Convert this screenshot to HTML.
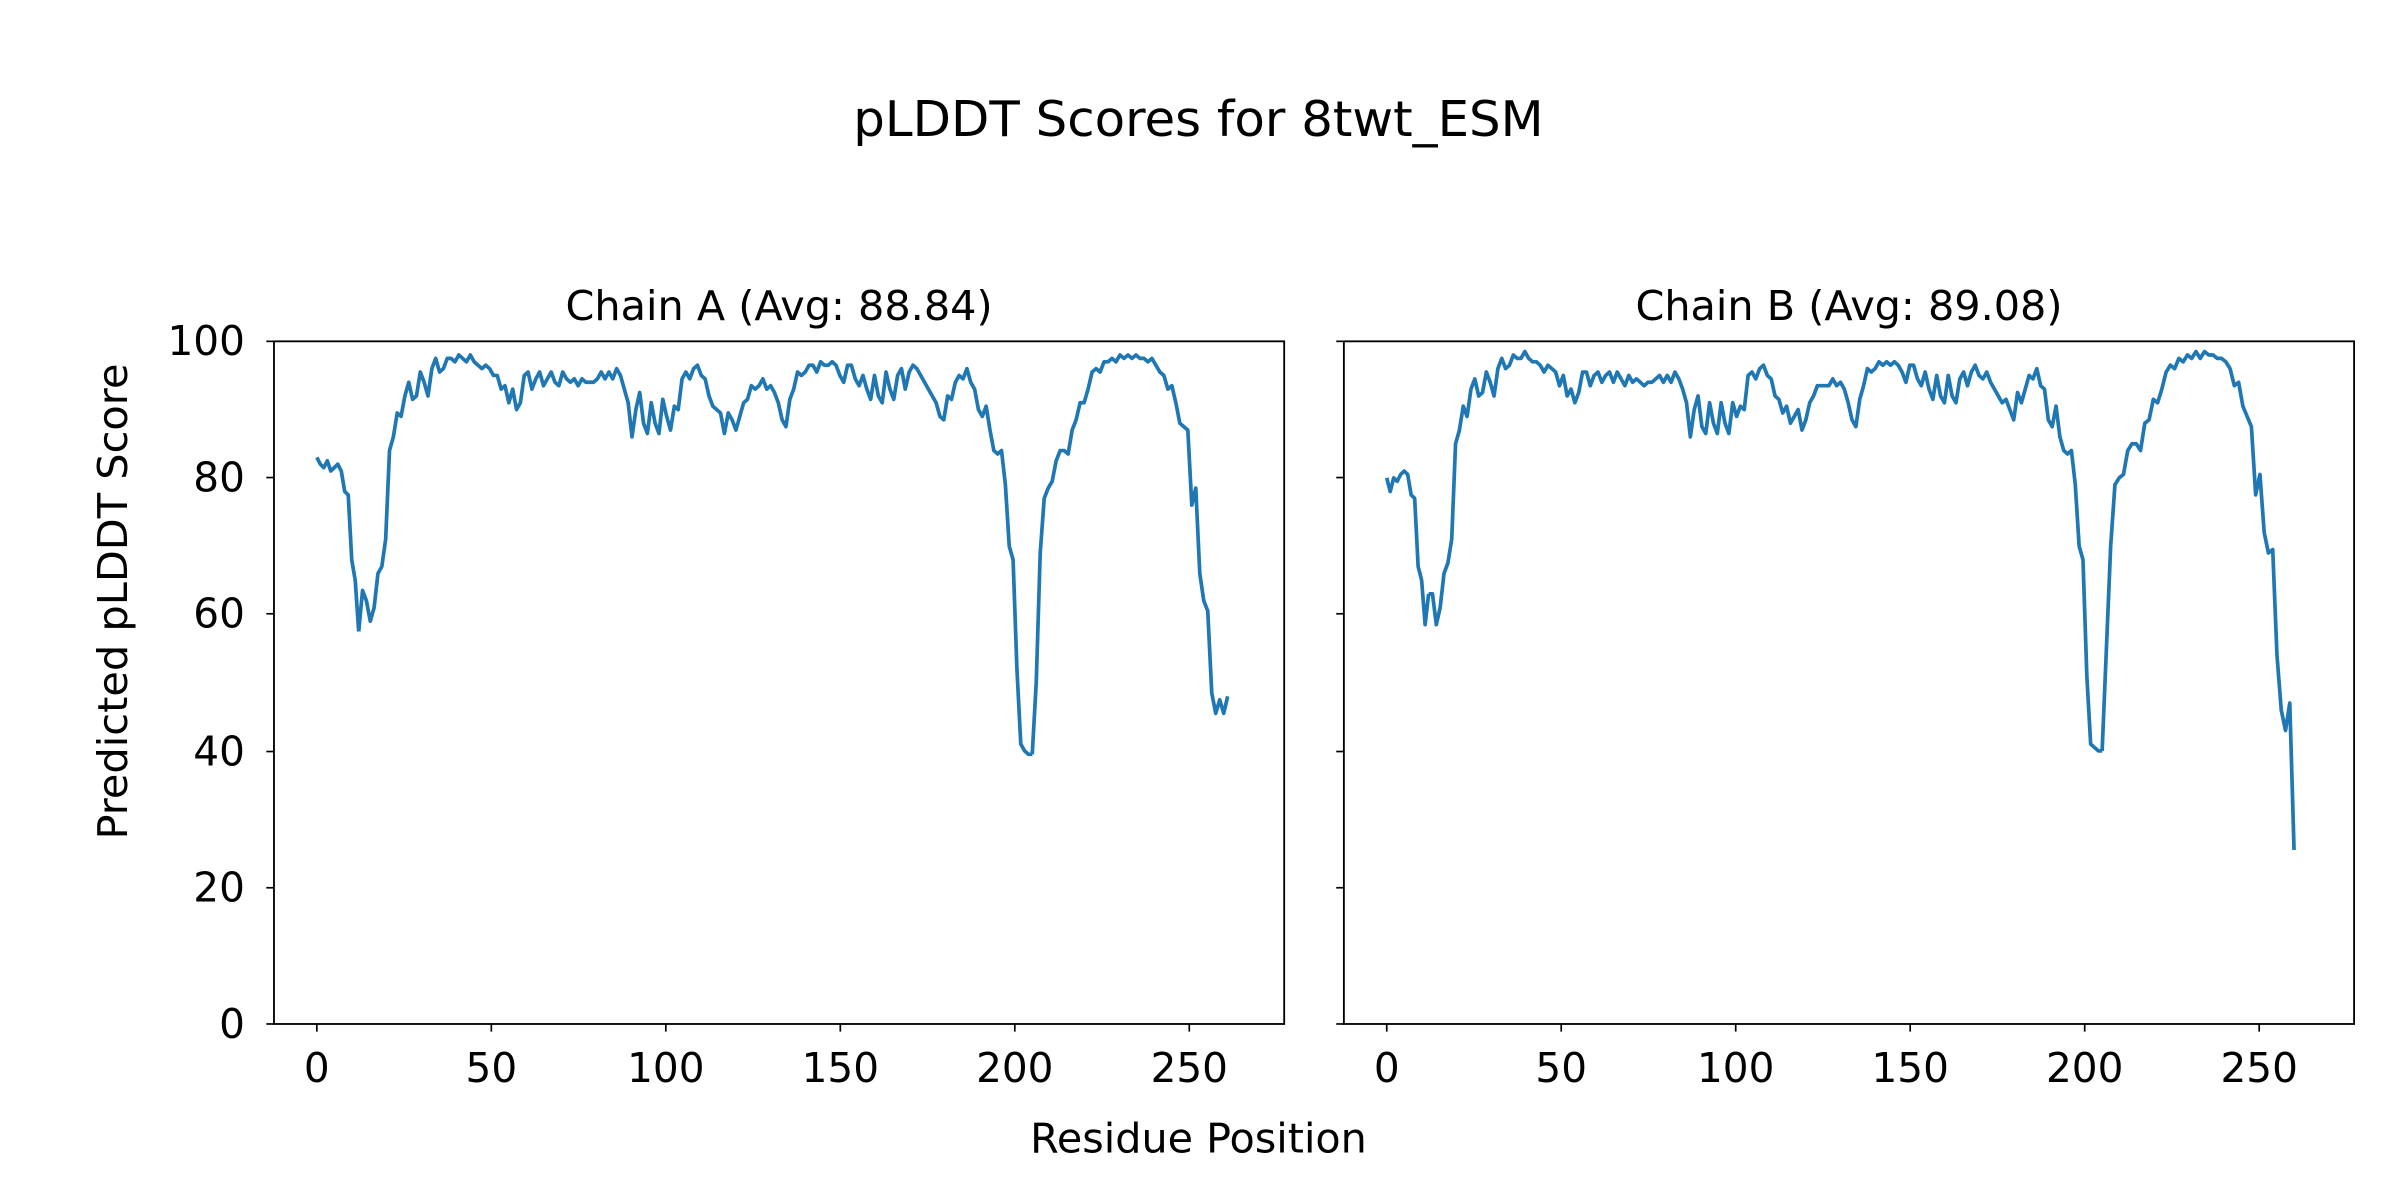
<!DOCTYPE html>
<html><head><meta charset="utf-8"><style>html,body{margin:0;padding:0;background:#fff}svg{display:block}</style></head>
<body>
<svg width="2400" height="1200" viewBox="0 0 1568 784" xmlns="http://www.w3.org/2000/svg" font-family="'DejaVu Sans','Liberation Sans',sans-serif">
<rect width="1568" height="784" fill="#fff"/>
<text x="783" y="89" font-size="32" text-anchor="middle" textLength="451" lengthAdjust="spacingAndGlyphs">pLDDT Scores for 8twt_ESM</text>
<text x="509" y="209" font-size="26.5" text-anchor="middle" textLength="279" lengthAdjust="spacingAndGlyphs">Chain A (Avg: 88.84)</text>
<text x="1208" y="209" font-size="26.5" text-anchor="middle" textLength="279" lengthAdjust="spacingAndGlyphs">Chain B (Avg: 89.08)</text>
<text x="783" y="753" font-size="26.5" text-anchor="middle" textLength="220" lengthAdjust="spacingAndGlyphs">Residue Position</text>
<text transform="translate(83,393) rotate(-90)" font-size="26.5" text-anchor="middle" textLength="311" lengthAdjust="spacingAndGlyphs">Predicted pLDDT Score</text>

<g font-size="26.5" text-anchor="end">
<text x="160" y="678">0</text><text x="160" y="589">20</text><text x="160" y="500">40</text><text x="160" y="410">60</text><text x="160" y="321">80</text><text x="160" y="232">100</text>
</g>
<g stroke="#000" stroke-width="1.1">
<line x1="174" y1="669" x2="179" y2="669"/><line x1="174" y1="580" x2="179" y2="580"/><line x1="174" y1="491" x2="179" y2="491"/><line x1="174" y1="401" x2="179" y2="401"/><line x1="174" y1="312" x2="179" y2="312"/><line x1="174" y1="223" x2="179" y2="223"/>
<line x1="873" y1="669" x2="878" y2="669"/><line x1="873" y1="580" x2="878" y2="580"/><line x1="873" y1="491" x2="878" y2="491"/><line x1="873" y1="401" x2="878" y2="401"/><line x1="873" y1="312" x2="878" y2="312"/><line x1="873" y1="223" x2="878" y2="223"/>
<line x1="207" y1="669" x2="207" y2="674"/><line x1="321" y1="669" x2="321" y2="674"/><line x1="435" y1="669" x2="435" y2="674"/><line x1="549" y1="669" x2="549" y2="674"/><line x1="663" y1="669" x2="663" y2="674"/><line x1="777" y1="669" x2="777" y2="674"/>
<line x1="906" y1="669" x2="906" y2="674"/><line x1="1020" y1="669" x2="1020" y2="674"/><line x1="1134" y1="669" x2="1134" y2="674"/><line x1="1248" y1="669" x2="1248" y2="674"/><line x1="1362" y1="669" x2="1362" y2="674"/><line x1="1476" y1="669" x2="1476" y2="674"/>
</g>
<g font-size="26.5" text-anchor="middle">
<text x="207" y="707">0</text><text x="321" y="707">50</text><text x="435" y="707">100</text><text x="549" y="707">150</text><text x="663" y="707">200</text><text x="777" y="707">250</text>
<text x="906" y="707">0</text><text x="1020" y="707">50</text><text x="1134" y="707">100</text><text x="1248" y="707">150</text><text x="1362" y="707">200</text><text x="1476" y="707">250</text>
</g>

<!-- Chain A data -->
<g transform="translate(207,669) scale(2.28,-4.46)" fill="none" stroke="#1f77b4" stroke-width="3.7" stroke-linejoin="round">
<polyline vector-effect="non-scaling-stroke" points="0,83 1,82 2,81.5 3,82.5 4,81 5,81.5 6,82 7,81 8,78 9,77.5 10,68 11,65 12,57.5"/>
<g transform="translate(12,0) scale(1.103,1) translate(-12,0)">
<polyline vector-effect="non-scaling-stroke" points="12,57.5 13,63.5 14,62 15,59 16,61 17,66 18,67 19,71 20,84 21,86 22,89.5 23,89 24,92 25,94 26,91.5 27,92 28,95.5 29,94 30,92 31,96 32,97.5 33,95.5 34,96 35,97.5 36,97.5 37,97 38,98 39,97.5 40,97 41,98 42,97 43,96.5 44,96 45,96.5 46,96 47,95 48,95 49,93 50,93.5 51,91 52,93 53,90 54,91 55,95 56,95.5 57,93 58,94.5 59,95.5 60,93.5 61,94.5 62,95.5 63,94 64,93.5 65,95.5 66,94.5 67,94 68,94.5 69,93.5 70,94.5 71,94 72,94 73,94 74,94.5 75,95.5 76,94.5 77,95.5 78,94.5 79,96 80,95 81,93 82,91 83,86 84,90 85,92.5 86,88 87,86.5 88,91 89,88 90,86.5 91,91.5 92,89 93,87 94,90.5 95,90 96,94.5 97,95.5 98,94.5 99,96 100,96.5 101,95 102,94.5 103,92 104,90.5 105,90 106,89.5 107,86.5 108,89.5 109,88.5 110,87 111,89 112,91 113,91.5 114,93.5 115,93 116,93.5 117,94.5 118,93 119,93.5 120,92.5 121,91 122,88.5 123,87.5 124,91.5 125,93 126,95.5 127,95 128,95.5 129,96.5 130,96.5 131,95.5 132,97 133,96.5 134,96.5 135,97 136,96.5 137,95 138,94 139,96.5 140,96.5 141,94.5 142,93.5 143,95 144,93 145,91.5 146,95 147,92 148,91 149,95.5 150,93 151,91.5 152,95 153,96 154,93 155,95.5 156,96.5 157,96 158,95 159,94 160,93 161,92 162,91 163,89 164,88.5 165,92 166,91.5 167,94 168,95 169,94.5 170,96 171,94 172,93 173,90 174,89 175,90.5 176,87 177,84 178,83.5 179,84 180,79 181,70 182,68 183,52 184,41 185,40 186,39.5 187,39.5"/>
</g>
<g transform="translate(205,0) scale(1.143,1) translate(-187,0)">
<polyline vector-effect="non-scaling-stroke" points="187,39.5 188,50 189,69 190,77 191,78.5 192,79.5 193,82.5 194,84 195,84 196,83.5 197,87 198,88.5 199,91 200,91 201,93 202,95.5 203,96 204,95.5 205,97 206,97 207,97.5 208,97 209,98 210,97.5 211,98 212,97.5 213,98 214,97.5 215,97.5 216,97 217,97.5 218,96.5 219,95.5 220,95 221,93 222,93.5 223,91 224,88 225,87.5 226,87 227,76 228,78.5 229,66 230,62 231,60.5 232,48.5 233,45.5 234,47.5 235,45.5 236,48"/>
</g>
</g>

<!-- Chain B data -->
<g transform="translate(906,669) scale(2.28,-4.46)" fill="none" stroke="#1f77b4" stroke-width="3.7" stroke-linejoin="round">
<polyline vector-effect="non-scaling-stroke" points="0,80 1,78 2,80 3,79.5 4,80.5 5,81 6,80.5 7,77.5 8,77 9,67 10,65 11,58.5 12,63"/>
<g transform="translate(12,0) scale(1.103,1) translate(-12,0)">
<polyline vector-effect="non-scaling-stroke" points="12,63 13,63 14,58.5 15,61 16,66 17,67.5 18,71 19,85 20,87 21,90.5 22,89 23,93 24,94.5 25,92 26,92.5 27,95.5 28,94 29,92 30,96 31,97.5 32,96 33,96.5 34,98 35,97.5 36,97.5 37,98.5 38,97.5 39,97 40,97 41,96.5 42,95.5 43,96.5 44,96 45,95.5 46,93.5 47,95 48,92 49,93 50,91 51,92.5 52,95.5 53,95.5 54,93.5 55,95 56,95.5 57,94 58,95 59,95.5 60,94 61,95.5 62,94.5 63,93.5 64,95 65,94 66,94.5 67,94 68,93.5 69,94 70,94 71,94.5 72,95 73,94 74,95 75,94 76,95.5 77,94.5 78,93 79,91 80,86 81,90 82,92 83,87.5 84,86.5 85,91 86,88 87,86.5 88,91 89,88 90,86.5 91,91 92,89 93,90.5 94,90 95,95 96,95.5 97,94.5 98,96 99,96.5 100,95 101,94.5 102,92 103,91.5 104,89.5 105,90.5 106,88 107,89 108,90 109,87 110,88.5 111,91 112,92 113,93.5 114,93.5 115,93.5 116,93.5 117,94.5 118,93.5 119,94 120,93 121,91 122,88.5 123,87.5 124,91.5 125,93.5 126,96 127,95.5 128,96 129,97 130,96.5 131,97 132,96.5 133,97 134,96.5 135,95.5 136,94 137,96.5 138,96.5 139,94.5 140,93.5 141,95.5 142,93 143,91.5 144,95 145,92 146,91 147,95 148,92 149,91 150,94.5 151,95.5 152,93.5 153,95.5 154,96.5 155,95 156,94.5 157,95.5 158,94 159,93 160,92 161,91 162,91.5 163,90 164,88.5 165,92.5 166,91 167,93 168,95 169,94.5 170,96 171,93.5 172,93 173,88.5 174,87.5 175,90.5 176,86 177,84 178,83.5 179,84 180,79 181,70 182,68 183,51 184,41 185,40.5 186,40 187,40"/>
</g>
<g transform="translate(205,0) scale(1.222,1) translate(-187,0)">
<polyline vector-effect="non-scaling-stroke" points="187,40 188,55 189,70 190,79 191,80 192,80.5 193,84 194,85 195,85 196,84 197,88 198,88.5 199,91.5 200,91 201,93 202,95.5 203,96.5 204,96 205,97.5 206,97 207,98 208,97.5 209,98.5 210,97.5 211,98.5 212,98 213,98 214,97.5 215,97.5 216,97 217,96 218,93.5 219,94 220,90.5 221,89 222,87.5 223,77.5 224,80.5 225,72 226,69 227,69.5 228,54 229,46 230,43 231,47 232,25.5"/>
</g>
</g>

<rect x="179" y="223" width="660" height="446" fill="none" stroke="#000" stroke-width="1.2"/>
<rect x="878" y="223" width="660" height="446" fill="none" stroke="#000" stroke-width="1.2"/>
</svg>
</body></html>
